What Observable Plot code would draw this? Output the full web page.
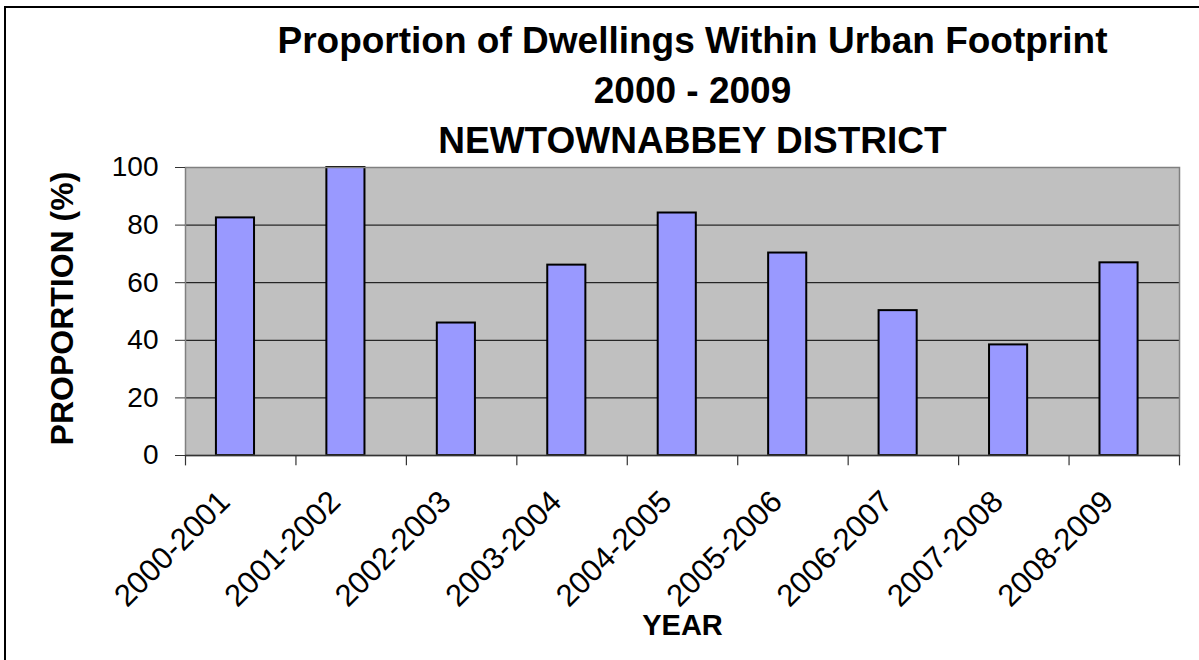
<!DOCTYPE html>
<html>
<head>
<meta charset="utf-8">
<script src="https://cdn.jsdelivr.net/npm/d3@7"></script>
<script src="https://cdn.jsdelivr.net/npm/@observablehq/plot@0.6"></script>
<style>
  html, body { margin: 0; padding: 0; background: #fff; overflow: hidden; }
  body { width: 1199px; height: 660px; position: relative; font-family: "Liberation Sans", Arial, sans-serif; }
  #border { position: absolute; left: 4px; top: 6px; width: 1400px; height: 900px;
            border-top: 2px solid #000; border-left: 2px solid #000; pointer-events: none; }
  #title { position: relative; height: 150px; box-sizing: border-box; padding-top: 16px;
           padding-left: 186px; width: 1199px; text-align: center;
           font-weight: bold; font-size: 37px; line-height: 50px; color: #000; }
  #title div { white-space: nowrap; }
  #chart svg { display: block; }
</style>
</head>
<body>
<div id="border"></div>
<div id="title">
  <div>Proportion of Dwellings Within Urban Footprint</div>
  <div>2000 - 2009</div>
  <div>NEWTOWNABBEY DISTRICT</div>
</div>
<div id="chart"></div>
<script>
const categories = ["2000-2001","2001-2002","2002-2003","2003-2004","2004-2005","2005-2006","2006-2007","2007-2008","2008-2009"];
const values = [82.5, 100, 46.0, 66.1, 84.2, 70.3, 50.3, 38.4, 66.9];
const yTicks = [0, 20, 40, 60, 80, 100];
const yTitle = "PROPORTION (%)";
const xTitle = "YEAR";

const data = categories.map((c, i) => ({category: c, index: i, value: values[i]}));
const boundaries = d3.range(categories.length + 1);
const font = "Liberation Sans, Arial, sans-serif";

const chart = Plot.plot({
  width: 1199,
  height: 510,
  marginTop: 17,
  marginBottom: 205,
  marginLeft: 185,
  marginRight: 20,
  style: {fontFamily: font, background: "transparent", overflow: "visible"},
  x: {type: "linear", domain: [0, categories.length], axis: null},
  y: {domain: [0, 100], axis: null},
  marks: [
    Plot.frame({fill: "#C0C0C0", stroke: null}),
    Plot.gridY(yTicks.filter(t => t > 0 && t < 100), {stroke: "#000", strokeOpacity: 1, strokeWidth: 1}),
    Plot.rectY(data, {
      x1: d => d.index + 0.28,
      x2: d => d.index + 0.625,
      y1: 0,
      y2: "value",
      fill: "#9999FF",
      stroke: "#000",
      strokeWidth: 2
    }),
    Plot.frame({stroke: "#808080", strokeWidth: 1.5}),
    Plot.axisY(yTicks, {
      tickSize: 10,
      tickPadding: 17,
      fontSize: 28,
      stroke: "#333",
      label: null,
      color: "#000"
    }),
    Plot.ruleY([0], {stroke: "#333", strokeWidth: 1.5}),
    Plot.ruleX(boundaries, {x: d => d, y1: 0, y2: -3.6, stroke: "#333", strokeWidth: 1.2}),
    Plot.text(data, {
      x: d => d.index + 0.5,
      y: 0,
      text: "category",
      rotate: -45,
      textAnchor: "end",
      lineAnchor: "middle",
      dx: -16,
      dy: 41,
      fontSize: 31,
      fill: "#000"
    }),
    Plot.text([xTitle], {
      frameAnchor: "bottom",
      text: d => d,
      dy: 179,
      fontSize: 29,
      fontWeight: "bold",
      fill: "#000"
    }),
    Plot.text([yTitle], {
      frameAnchor: "left",
      text: d => d,
      rotate: -90,
      textAnchor: "middle",
      dx: -123,
      dy: -3,
      fontSize: 32,
      fontWeight: "bold",
      fill: "#000"
    })
  ]
});
document.getElementById("chart").appendChild(chart);
</script>
</body>
</html>
